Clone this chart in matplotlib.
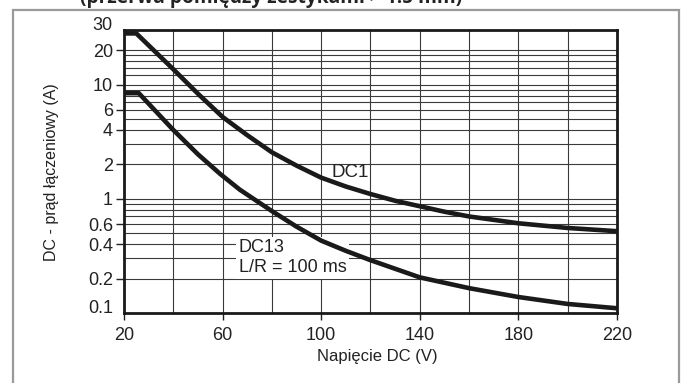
import numpy as np
import matplotlib.pyplot as plt
from matplotlib.patches import Rectangle
from matplotlib.ticker import FixedLocator, NullFormatter

plt.rcParams['font.family'] = ['Liberation Sans', 'DejaVu Sans']

# odczyt z wykresu: napiecie DC (V) / prad laczeniowy (A)
voltage_dc1 = [20, 25, 40, 50, 60, 70, 80, 90, 100, 110, 120, 130, 140, 150, 160, 180, 200, 220]
current_dc1 = [28, 28, 13.6, 8.3, 5.2, 3.6, 2.55, 1.95, 1.53, 1.28, 1.1, 0.96, 0.86, 0.77,
               0.70, 0.61, 0.555, 0.52]

voltage_dc13 = [20, 26, 40, 50, 59, 67, 80, 90, 100, 110, 120, 140, 160, 180, 200, 220]
current_dc13 = [8.4, 8.4, 4.0, 2.45, 1.65, 1.2, 0.78, 0.57, 0.43, 0.35, 0.29, 0.205, 0.165,
                0.138, 0.12, 0.11]

x_ticks = [20, 60, 100, 140, 180, 220]
x_grid = [40, 80, 120, 160, 200]
y_ticks = [0.1, 0.2, 0.4, 0.6, 1, 2, 4, 6, 10, 20, 30]
y_labels = ['0.1', '0.2', '0.4', '0.6', '1', '2', '4', '6', '10', '20', '30']
y_grid = [0.3, 0.5, 0.7, 0.8, 0.9, 3, 5, 7, 8, 9, 12, 14, 16, 18]

W, H = 688, 383
fig = plt.figure(figsize=(W / 100, H / 100), dpi=100)

# szara ramka wokol wykresu
frame = Rectangle((13 / W, -0.1), (679 - 13) / W, 0.1 + 1 - 10 / H,
                  transform=fig.transFigure, fill=False, edgecolor='#9a9a9a',
                  lw=1.6, clip_on=False)
fig.add_artist(frame)

fig.text(80 / W, 1 - 3 / H, '(przerwa pomiędzy zestykami > 1.5 mm)',
         family=['Open Sans', 'DejaVu Sans'], fontweight='bold', fontsize=13.8,
         ha='left', va='baseline', color='#222222')

ax = fig.add_axes([124 / W, 1 - 313 / H, 493 / W, 283 / H])
ax.set_yscale('log')
ax.set_xlim(20, 220)
ax.set_ylim(0.1, 30)

ax.plot(voltage_dc1, current_dc1, color='#1a1a1a', lw=3.3)
ax.plot(voltage_dc13, current_dc13, color='#1a1a1a', lw=3.3)

ax.set_xticks(x_ticks)
ax.set_xticklabels([str(v) for v in x_ticks])
ax.xaxis.set_minor_locator(FixedLocator(x_grid))
ax.yaxis.set_major_locator(FixedLocator(y_ticks))
ax.set_yticklabels(y_labels)
ax.yaxis.set_minor_locator(FixedLocator(y_grid))
ax.yaxis.set_minor_formatter(NullFormatter())

ax.tick_params(which='major', direction='out', length=6, width=1, labelsize=13,
               color='#222222', labelcolor='#222222')
ax.tick_params(axis='x', which='major', length=5, pad=5)
ax.tick_params(axis='y', which='major', pad=2)
ax.tick_params(which='minor', length=0)
ax.grid(True, which='both', color='#3a3a3a', lw=0.8)

# 0.1 i 30 bez kreski, etykieta nad pozycja
for t in ax.yaxis.get_major_ticks():
    if t.get_loc() in (0.1, 30):
        t.tick1line.set_visible(False)
        t.label1.set_va('baseline')

for s in ax.spines.values():
    s.set_linewidth(2)
    s.set_color('#1a1a1a')

ax.text(104.3, 1.69, 'DC1', fontsize=13.5, ha='left', va='center', color='#222222')
ax.text(66.6, 0.305, 'DC13\nL/R = 100 ms', fontsize=13, ha='left', va='center',
        linespacing=1.22, color='#222222', zorder=1.8,
        bbox=dict(facecolor='white', edgecolor='none', pad=2))

fig.text(52 / W, 1 - 172 / H, 'DC - prąd łączeniowy (A)', rotation=90,
         ha='center', va='center', fontsize=11.5, color='#222222')
fig.text(377 / W, 1 - 356 / H, 'Napięcie DC (V)', ha='center', va='center',
         fontsize=12, color='#222222')

fig.savefig('out.png', dpi=100)
